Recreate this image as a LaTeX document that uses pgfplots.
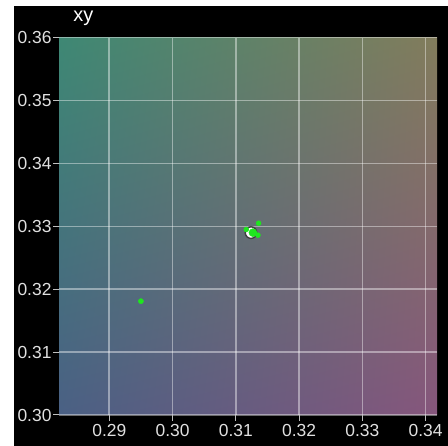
\documentclass[border=0pt]{standalone}
\usepackage{fontspec}
\setmainfont{Liberation Sans}
\usepackage{pgfplots}
\pgfplotsset{compat=1.18}
\usetikzlibrary{shadings}
\definecolor{ulc}{RGB}{62,136,116}
\definecolor{urc}{RGB}{130,124,92}
\definecolor{llc}{RGB}{74,96,132}
\definecolor{lrc}{RGB}{134,86,124}
\definecolor{ptgreen}{RGB}{30,230,30}
\begin{document}
\begin{tikzpicture}[x=1bp,y=1bp]
\fill[white] (0,0) rectangle (448,446);
\fill[black] (14,0) rectangle (448,440);
\begin{axis}[
  at={(59bp,31bp)}, anchor=south west,
  scale only axis, width=378bp, height=377.3bp,
  xmin=0.28205, xmax=0.3418, ymin=0.30, ymax=0.36,
  xtick={0.29,0.30,0.31,0.32,0.33,0.34},
  ytick={0.30,0.31,0.32,0.33,0.34,0.35,0.36},
  xticklabels={0.29,0.30,0.31,0.32,0.33,0.34},
  yticklabels={0.30,0.31,0.32,0.33,0.34,0.35,0.36},
  xtick pos=bottom, ytick pos=left,
  tick align=outside, major tick length=6bp,
  tick style={white!75!black, line width=1bp},
  axis line style={draw=none},
  grid=major,
  grid style={white, opacity=0.42, line width=1.6bp},
  ticklabel style={font=\fontsize{17.5}{17.5}\selectfont, text=white!88!black},
  yticklabel style={xshift=2bp},
  axis background/.style={shade, shading=bilinear interpolation,
    upper left=ulc, upper right=urc, lower left=llc, lower right=lrc},
  title={xy},
  title style={at={(0.029,1)}, anchor=base west, yshift=10bp,
    font=\fontsize{20}{20}\selectfont, text=white},
]
\addplot[only marks, mark=*, mark size=2.6bp, color=ptgreen] coordinates {(0.2950,0.3181)};
\addplot[only marks, mark=*, mark size=5.8bp, mark options={fill=white, draw=black!75, line width=1.4bp}] coordinates {(0.3124,0.3290)};
\addplot[only marks, mark=*, mark size=2.5bp, color=ptgreen] coordinates {
  (0.3136,0.3305) (0.31165,0.3295) (0.3135,0.3286)};
\addplot[only marks, mark=*, mark size=4bp, color=ptgreen] coordinates {(0.3127,0.3290)};
\end{axis}
\pgfresetboundingbox
\useasboundingbox (0,0) rectangle (448,446);
\end{tikzpicture}
\end{document}
